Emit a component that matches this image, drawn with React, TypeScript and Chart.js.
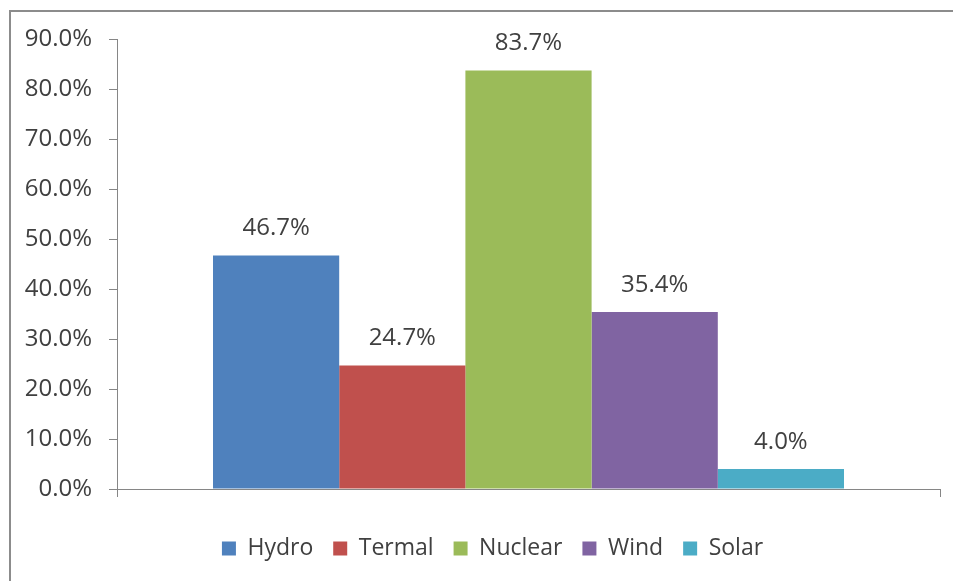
import React, { useEffect, useRef } from "react";
import { Chart, registerables } from "chart.js";

Chart.register(...registerables);

const categories = [""];
const seriesNames = ["Hydro", "Termal", "Nuclear", "Wind", "Solar"];
const seriesValues = [46.7, 24.7, 83.7, 35.4, 4.0];
const seriesColors = ["#4F81BD", "#C0504D", "#9BBB59", "#8064A2", "#4BACC6"];
const yTicks = [0, 10, 20, 30, 40, 50, 60, 70, 80, 90];

const FONT = "'Open Sans', 'Noto Sans', sans-serif";
const TEXT = "#404040";
const AXIS = "#868686";

const valueLabels = {
  id: "valueLabels",
  afterDatasetsDraw(chart: any) {
    const ctx = chart.ctx;
    ctx.save();
    ctx.font = `24px ${FONT}`;
    ctx.fillStyle = TEXT;
    ctx.textAlign = "center";
    ctx.textBaseline = "middle";
    chart.data.datasets.forEach((ds: any, i: number) => {
      const meta = chart.getDatasetMeta(i);
      meta.data.forEach((el: any, j: number) => {
        const v = ds.data[j];
        ctx.fillText(v.toFixed(1) + "%", el.x, el.y - 27);
      });
    });
    ctx.restore();
  },
};

const legendShift = {
  id: "legendShift",
  afterLayout(chart: any) {
    const lg = chart.legend;
    if (lg) {
      lg.left += 17;
      lg.right += 17;
    }
  },
};

export default function App() {
  const ref = useRef<HTMLCanvasElement>(null);
  useEffect(() => {
    document.documentElement.style.overflow = "hidden";
    document.body.style.overflow = "hidden";
    const chart = new Chart(ref.current!, {
      type: "bar",
      data: {
        labels: categories,
        datasets: seriesNames.map((name, i) => ({
          label: name,
          data: [seriesValues[i]],
          backgroundColor: seriesColors[i],
          borderWidth: 0,
          categoryPercentage: 0.7667,
          barPercentage: 1,
        })),
      },
      options: {
        animation: false,
        responsive: false,
        maintainAspectRatio: false,
        layout: { padding: { left: 0, right: 13, top: 27, bottom: 11 } },
        plugins: {
          tooltip: { enabled: false },
          legend: {
            position: "bottom",
            labels: {
              boxWidth: 14,
              boxHeight: 14,
              padding: 20,
              color: TEXT,
              font: { family: FONT, size: 23 },
            },
          },
        },
        scales: {
          x: {
            offset: true,
            grid: {
              display: true,
              drawOnChartArea: false,
              drawTicks: true,
              tickLength: 8,
              color: AXIS,
              offset: true,
            },
            border: { display: true, color: AXIS, width: 1 },
            ticks: { display: false },
            afterFit(scale: any) {
              scale.height = 28;
              scale.paddingLeft = 0;
              scale.paddingRight = 0;
            },
          },
          y: {
            min: 0,
            max: 90,
            afterBuildTicks(scale: any) {
              scale.ticks = yTicks.map((v) => ({ value: v }));
            },
            grid: {
              display: true,
              drawOnChartArea: false,
              drawTicks: true,
              tickLength: 8,
              color: AXIS,
            },
            border: { display: true, color: AXIS, width: 1 },
            ticks: {
              padding: 17,
              color: TEXT,
              font: { family: FONT, size: 24 },
              callback: (v: any) => Number(v).toFixed(1) + "%",
            },
            afterFit(scale: any) {
              scale.width = 106;
              scale.paddingTop = 0;
              scale.paddingBottom = 0;
            },
          },
        },
      },
      plugins: [valueLabels, legendShift],
    });
    return () => chart.destroy();
  }, []);

  return (
    <div
      style={{
        position: "fixed",
        left: 9,
        top: 10,
        width: 2000,
        height: 2000,
        borderTop: "2px solid #8c8c8c",
        borderLeft: "2px solid #8c8c8c",
        background: "#fff",
      }}
    >
      <canvas
        ref={ref}
        width={942}
        height={569}
        style={{ display: "block", width: 942, height: 569 }}
      />
    </div>
  );
}
